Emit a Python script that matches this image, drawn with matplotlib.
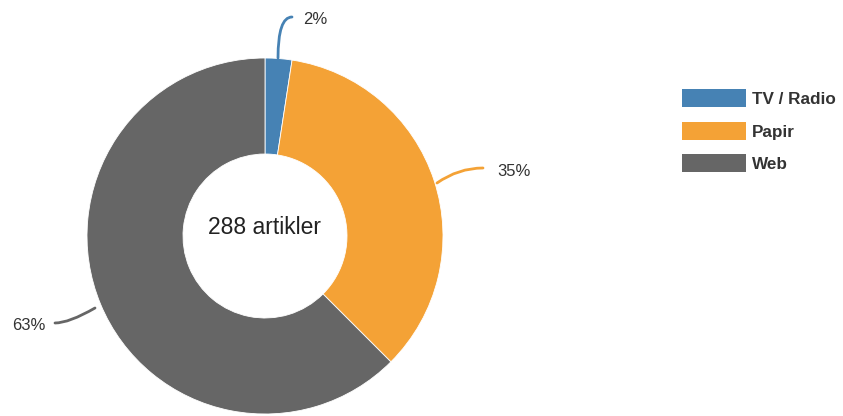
import matplotlib
matplotlib.use("Agg")
import matplotlib.pyplot as plt
from matplotlib.patches import Patch

categories = ["TV / Radio", "Papir", "Web"]
values = [7, 101, 180]
pct_labels = ["2%", "35%", "63%"]
colors = ["#4682b4", "#f4a236", "#666666"]
center_text = "288 artikler"

plt.rcParams['font.family'] = ['Liberation Sans', 'DejaVu Sans']

W, H = 843, 416
fig = plt.figure(figsize=(W/100, H/100), dpi=100)
cx, cy, R = 265, 236, 178
ax = fig.add_axes([(cx-R)/W, (H-cy-R)/H, 2*R/W, 2*R/H])
ax.pie(values, colors=colors, startangle=90, counterclock=False,
       wedgeprops=dict(width=1-82/178, edgecolor='white', linewidth=0.6))
ax.set_xlim(-1, 1); ax.set_ylim(-1, 1)
ax.set_aspect('equal')

def d(px, py):
    return ((px-cx)/R, (cy-py)/R)

ax.text(0, 0.05, center_text, ha='center', va='center', fontsize=16.5, color='#222222')

# labels with leader lines
lab = [
    (d(278, 58), d(292, 17), d(303, 20), 'left', 90, 0),
    (d(437, 183), d(483, 168), d(497, 172), 'left', 35, 0),
    (d(95, 308), d(55, 323), d(45, 326), 'right', -150, 0),
]
for i, (p0, p1, pt, ha, aA, aB) in enumerate(lab):
    ax.annotate("", xy=p1, xytext=p0, annotation_clip=False,
                arrowprops=dict(arrowstyle='-', color=colors[i], lw=2,
                                connectionstyle=f"angle3,angleA={aA},angleB={aB}",
                                shrinkA=0, shrinkB=0))
    ax.text(pt[0], pt[1], pct_labels[i], ha=ha, va='center', fontsize=12,
            color='#333333', clip_on=False)

handles = [Patch(facecolor=c, edgecolor='none') for c in colors]
leg = fig.legend(handles, categories, loc='upper left', bbox_to_anchor=(667/W, 1-74/H),
                 frameon=False, handlelength=3.7, handleheight=1.25, labelspacing=0.84,
                 handletextpad=0.35, prop={'weight': 'bold', 'size': 12.3})
for t in leg.get_texts():
    t.set_color('#333333')

fig.savefig("out.png", dpi=100)
